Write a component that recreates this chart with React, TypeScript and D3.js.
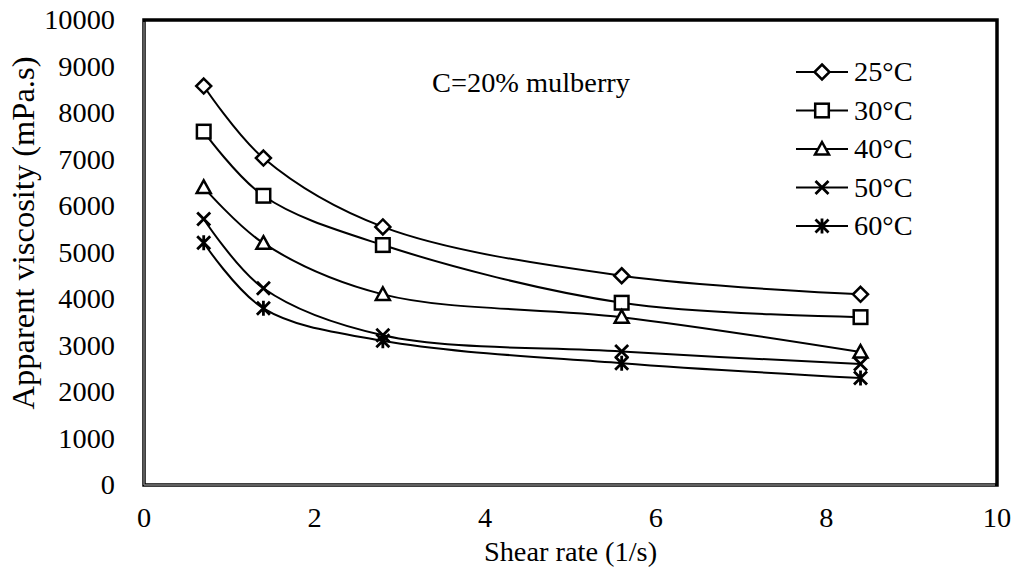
import React from 'react';
import * as d3 from 'd3';

const shearRates = [0.7, 1.4, 2.8, 5.6, 8.4];
const temps = ['25°C', '30°C', '40°C', '50°C', '60°C'];
const visc25 = [8580, 7030, 5550, 4500, 4100];
const visc30 = [7600, 6220, 5160, 3920, 3610];
const visc40 = [6400, 5200, 4100, 3610, 2860];
const visc50 = [5720, 4230, 3220, 2870, 2600];
const visc60 = [5210, 3800, 3100, 2620, 2300];
const markers = ['diamond', 'square', 'triangle', 'x', 'star'];
const xTicks = [0, 2, 4, 6, 8, 10];
const yTicks = [0, 1000, 2000, 3000, 4000, 5000, 6000, 7000, 8000, 9000, 10000];

const series = [visc25, visc30, visc40, visc50, visc60];

const W = 1018;
const H = 575;
const M = { left: 144, right: 997, top: 20, bottom: 485 };
const FONT = '"Liberation Serif", "Times New Roman", serif';
const FS = 26.5;
const SX = 1.07; // the reference type is slightly wide

const x = d3.scaleLinear().domain([0, 10]).range([M.left, M.right]);
const y = d3.scaleLinear().domain([0, 10000]).range([M.bottom, M.top]);

function T({ x, y, anchor, children }: { x: number; y: number; anchor?: string; children: React.ReactNode }) {
  return (
    <text transform={`translate(${x},${y}) scale(${SX},1)`} textAnchor={anchor || 'start'} fontSize={FS} fill="#000">
      {children}
    </text>
  );
}

function Marker({ kind, cx, cy }: { kind: string; cx: number; cy: number }) {
  const sw = 2.5;
  if (kind === 'diamond') {
    const r = 7.5;
    return <path d={`M${cx},${cy - r}L${cx + r},${cy}L${cx},${cy + r}L${cx - r},${cy}Z`} fill="#fff" stroke="#000" strokeWidth={sw} />;
  }
  if (kind === 'square') {
    const r = 6.8;
    return <rect x={cx - r} y={cy - r} width={2 * r} height={2 * r} fill="#fff" stroke="#000" strokeWidth={sw} />;
  }
  if (kind === 'triangle') {
    const r = 7;
    return <path d={`M${cx},${cy - r}L${cx + r},${cy + r * 0.8}L${cx - r},${cy + r * 0.8}Z`} fill="#fff" stroke="#000" strokeWidth={sw} />;
  }
  if (kind === 'x') {
    const r = 6.5;
    return <path d={`M${cx - r},${cy - r}L${cx + r},${cy + r}M${cx + r},${cy - r}L${cx - r},${cy + r}`} stroke="#000" strokeWidth={2.8} />;
  }
  const r = 6.5;
  return (
    <path
      d={`M${cx - r},${cy - r}L${cx + r},${cy + r}M${cx + r},${cy - r}L${cx - r},${cy + r}M${cx},${cy - r - 1}L${cx},${cy + r + 1}`}
      stroke="#000"
      strokeWidth={2.8}
    />
  );
}

export default function App() {
  const line = d3
    .line<number>()
    .x((_, i) => x(shearRates[i]))
    .y((d) => y(d))
    .curve(d3.curveCatmullRom.alpha(0.5));

  const legendX = 796;
  const legendY0 = 72;
  const legendStep = 38.5;

  return (
    <svg width={W} height={H} style={{ position: 'absolute', left: 0, top: 0, background: '#fff' }} fontFamily={FONT}>
      {/* plot frame */}
      <rect x={M.left} y={M.top} width={M.right - M.left} height={M.bottom - M.top} fill="#fff" stroke="#000" strokeWidth={3.5} />
      <line x1={M.left} x2={M.left} y1={M.top + 2} y2={M.bottom} stroke="#808080" strokeWidth={1.4} />
      <line x1={M.left} x2={M.right - 2} y1={M.bottom} y2={M.bottom} stroke="#808080" strokeWidth={1.4} />

      {/* y ticks */}
      {yTicks.map((t) => (
        <T key={t} x={115} y={y(t) + 9} anchor="end">
          {t}
        </T>
      ))}
      {/* x ticks */}
      {xTicks.map((t) => (
        <T key={t} x={x(t)} y={527} anchor="middle">
          {t}
        </T>
      ))}

      <T x={x(5)} y={561} anchor="middle">
        Shear rate (1/s)
      </T>
      <text transform={`translate(34,233) rotate(-90)`} textAnchor="middle" fontSize={32.5} fill="#000">
        Apparent viscosity (mPa.s)
      </text>

      <T x={531} y={92} anchor="middle">
        C=20% mulberry
      </T>

      {/* series */}
      {series.map((vals, si) => (
        <g key={temps[si]}>
          <path d={line(vals) || ''} fill="none" stroke="#000" strokeWidth={2} />
          {vals.map((v, i) => (
            <Marker key={i} kind={markers[si]} cx={x(shearRates[i])} cy={y(v)} />
          ))}
        </g>
      ))}

      {/* legend */}
      {temps.map((t, i) => {
        const ly = legendY0 + i * legendStep;
        return (
          <g key={t}>
            <line x1={legendX} x2={legendX + 52} y1={ly} y2={ly} stroke="#000" strokeWidth={2} />
            <Marker kind={markers[i]} cx={legendX + 26} cy={ly} />
            <T x={legendX + 58} y={ly + 9}>
              {t}
            </T>
          </g>
        );
      })}
    </svg>
  );
}
